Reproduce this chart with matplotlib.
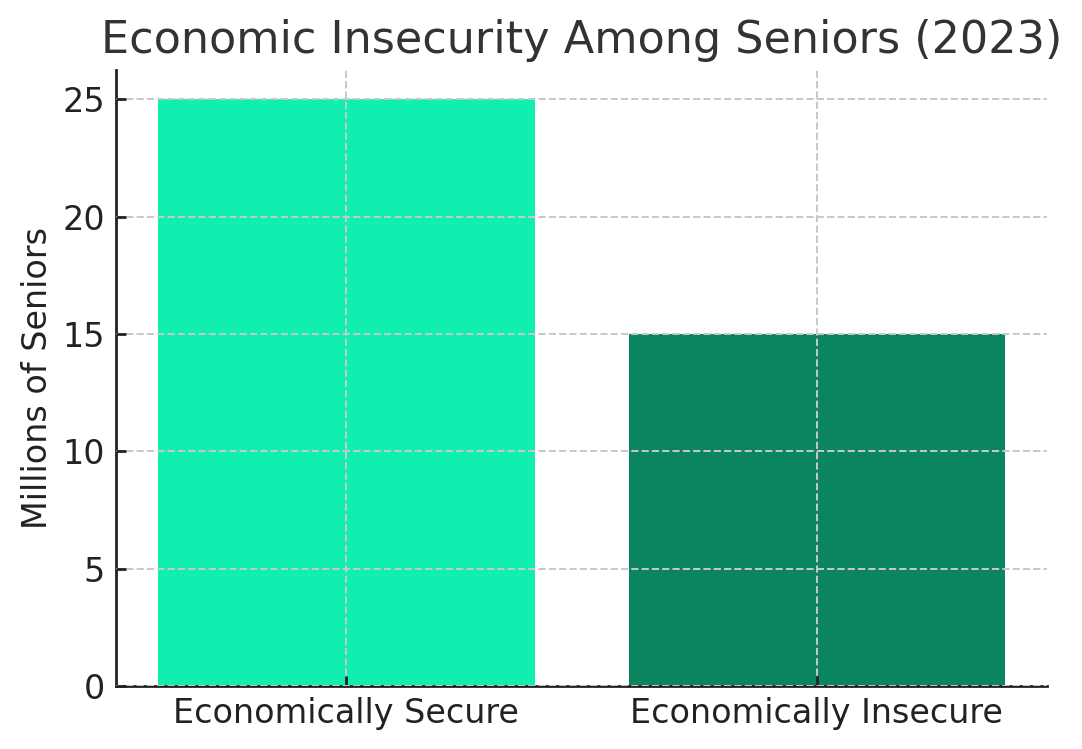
import matplotlib
matplotlib.use('Agg')
import matplotlib.pyplot as plt

categories = ['Economically Secure', 'Economically Insecure']
seniors_millions = [25, 15]
bar_colors = ['#10EFAF', '#0A8560']

fig = plt.figure(figsize=(5.41, 3.745), dpi=200)
ax = fig.add_axes([0.107, 0.084, 0.861, 0.8225])

ax.bar(categories, seniors_millions, color=bar_colors, width=0.8)

ax.set_title('Economic Insecurity Among Seniors (2023)', fontsize=16, color='#333333', pad=6)
ax.set_ylabel('Millions of Seniors', fontsize=12, color='#222222', labelpad=3)
ax.tick_params(axis='both', labelsize=12, colors='#222222', width=1, length=3.5,
               direction='in', pad=4)
ax.set_yticks([0, 5, 10, 15, 20, 25])

ax.grid(True, linestyle='--', color='#c8c8c8', linewidth=0.7)
ax.set_axisbelow(False)
for side in ['top', 'right']:
    ax.spines[side].set_visible(False)
for side in ['left', 'bottom']:
    ax.spines[side].set_color('#222222')
    ax.spines[side].set_linewidth(1.0)

fig.savefig('out.png', dpi=200)
